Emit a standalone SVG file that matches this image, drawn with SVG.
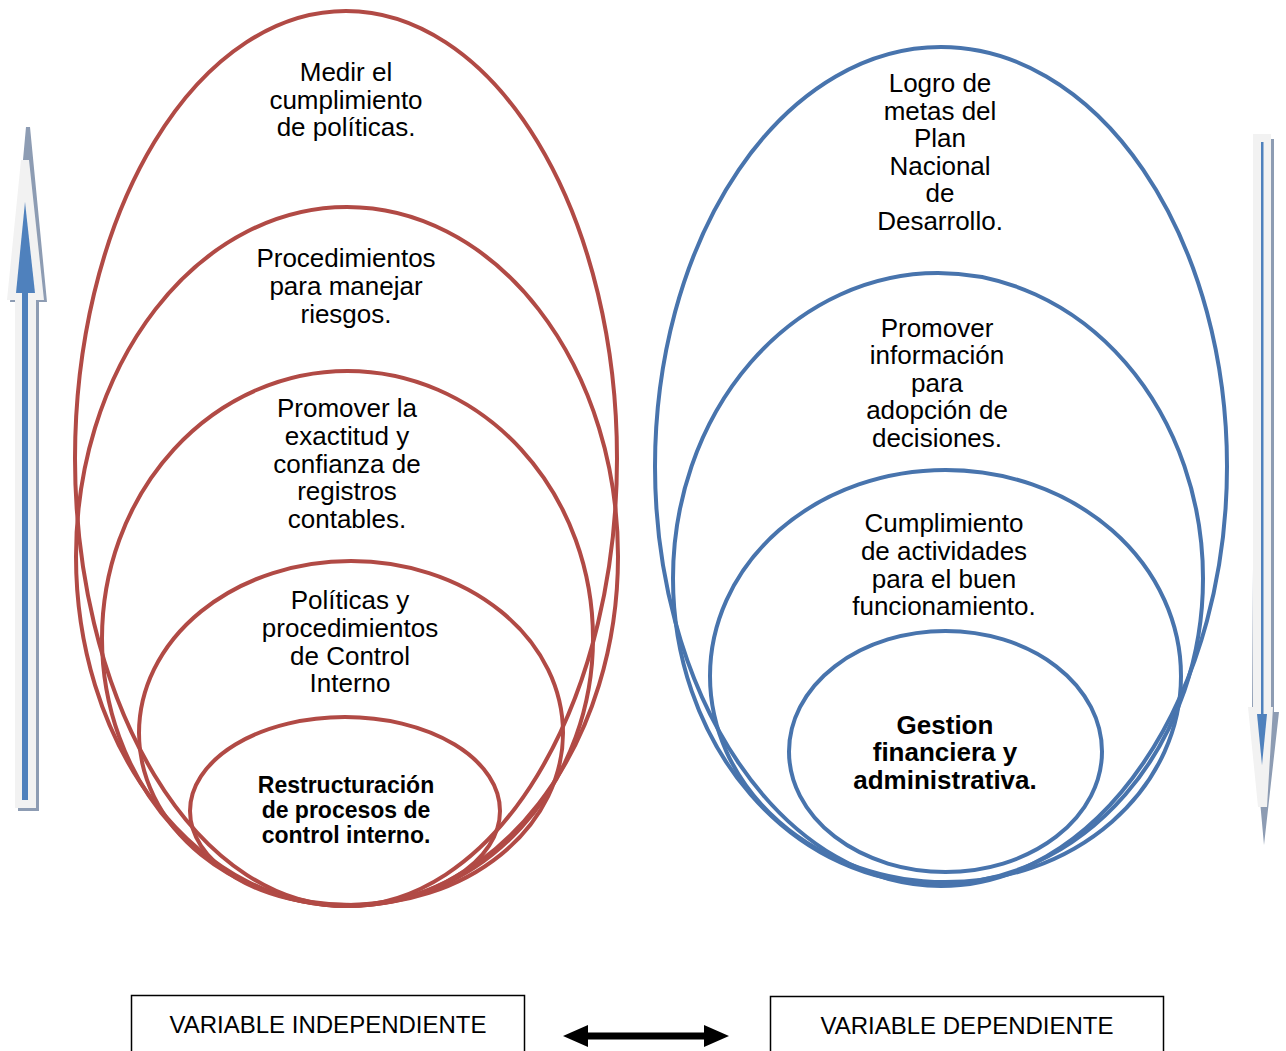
<svg xmlns="http://www.w3.org/2000/svg" width="1286" height="1051" viewBox="0 0 1286 1051">
<style>
.red{fill:none;stroke:#b14a45;stroke-width:4}
.blue{fill:none;stroke:#4874ad;stroke-width:4}
.t{font-family:"Liberation Sans",Arial,sans-serif;font-size:26px;fill:#000;text-anchor:middle}
.b{font-family:"Liberation Sans",Arial,sans-serif;font-weight:bold;fill:#000;text-anchor:middle}
.box{fill:#fff;stroke:#000;stroke-width:1.5}
.bt{font-family:"Liberation Sans",Arial,sans-serif;font-size:24px;fill:#000;text-anchor:middle}
.light{fill:#f2f2f2}
.shadow{fill:#8d9cb3}
.bl{fill:#4f81bd}
</style>
<rect width="1286" height="1051" fill="#fff"/>

<g id="connectors">
  <g id="arrow-up">
    <polygon class="shadow" points="26,127 30,127 47,302 39,302 39,811 18,811 18,302 10,302"/>
    <polygon class="light" points="21,160 29,160 44,300 36,300 36,808 15,808 15,300 7,300"/>
    <rect class="bl" x="22" y="290" width="6" height="510"/>
    <polygon class="bl" points="25,202 35,293 16,293"/>
  </g>
  <g id="arrow-down">
    <polygon class="shadow" points="1256,139 1274,139 1274,712 1279,712 1264,845 1252,712"/>
    <polygon class="light" points="1253,134 1271,134 1271,707 1273,707 1267,807 1258,807 1248,707 1253,707"/>
    <rect class="bl" x="1261" y="142" width="2.5" height="575"/>
    <polygon class="bl" points="1257,714 1267,714 1262,765"/>
  </g>
  <polygon id="double-arrow" fill="#000" points="563,1036 588,1025 588,1032.5 704,1032.5 704,1025 729,1036 704,1047 704,1039.5 588,1039.5 588,1047"/>
</g>

<g id="red-1">
  <ellipse class="red" cx="346" cy="458.5" rx="271" ry="447.5"/>
  <text class="t" x="346" y="81">Medir el</text>
  <text class="t" x="346" y="109">cumplimiento</text>
  <text class="t" x="346" y="136">de políticas.</text>
</g>
<g id="red-2">
  <ellipse class="red" cx="347" cy="556.5" rx="271" ry="349.5"/>
  <text class="t" x="346" y="267">Procedimientos</text>
  <text class="t" x="346" y="295">para manejar</text>
  <text class="t" x="346" y="323">riesgos.</text>
</g>
<g id="red-3">
  <ellipse class="red" cx="347.5" cy="638.5" rx="245.5" ry="267.5"/>
  <text class="t" x="347" y="417">Promover la</text>
  <text class="t" x="347" y="445">exactitud y</text>
  <text class="t" x="347" y="473">confianza de</text>
  <text class="t" x="347" y="500">registros</text>
  <text class="t" x="347" y="528">contables.</text>
</g>
<g id="red-4">
  <ellipse class="red" cx="351" cy="733" rx="212" ry="172"/>
  <text class="t" x="350" y="609">Políticas y</text>
  <text class="t" x="350" y="637">procedimientos</text>
  <text class="t" x="350" y="665">de Control</text>
  <text class="t" x="350" y="692">Interno</text>
</g>
<g id="red-5">
  <ellipse class="red" cx="345" cy="811" rx="155" ry="94"/>
  <text class="b" font-size="23" x="346" y="793">Restructuración</text>
  <text class="b" font-size="23" x="346" y="818">de procesos de</text>
  <text class="b" font-size="23" x="346" y="843">control interno.</text>
</g>

<g id="blue-1">
  <ellipse class="blue" cx="941" cy="466.5" rx="286" ry="419.5"/>
  <text class="t" x="940" y="92">Logro de</text>
  <text class="t" x="940" y="120">metas del</text>
  <text class="t" x="940" y="147">Plan</text>
  <text class="t" x="940" y="175">Nacional</text>
  <text class="t" x="940" y="202">de</text>
  <text class="t" x="940" y="230">Desarrollo.</text>
</g>
<g id="blue-2">
  <ellipse class="blue" cx="938" cy="578.5" rx="265" ry="305.5"/>
  <text class="t" x="937" y="337">Promover</text>
  <text class="t" x="937" y="364">información</text>
  <text class="t" x="937" y="392">para</text>
  <text class="t" x="937" y="419">adopción de</text>
  <text class="t" x="937" y="447">decisiones.</text>
</g>
<g id="blue-3">
  <ellipse class="blue" cx="945.5" cy="676" rx="235.5" ry="206"/>
  <text class="t" x="944" y="532">Cumplimiento</text>
  <text class="t" x="944" y="560">de actividades</text>
  <text class="t" x="944" y="588">para el buen</text>
  <text class="t" x="944" y="615">funcionamiento.</text>
</g>
<g id="blue-4">
  <ellipse class="blue" cx="945.5" cy="751.5" rx="156.5" ry="120.5"/>
  <text class="b" font-size="26" x="945" y="734">Gestion</text>
  <text class="b" font-size="26" x="945" y="761">financiera y</text>
  <text class="b" font-size="26" x="945" y="789">administrativa.</text>
</g>

<g id="var-independiente">
  <rect class="box" x="131.5" y="995.5" width="393" height="70"/>
  <text class="bt" x="328" y="1033">VARIABLE INDEPENDIENTE</text>
</g>
<g id="var-dependiente">
  <rect class="box" x="770.5" y="996.5" width="393" height="70"/>
  <text class="bt" x="967" y="1034">VARIABLE DEPENDIENTE</text>
</g>
</svg>
